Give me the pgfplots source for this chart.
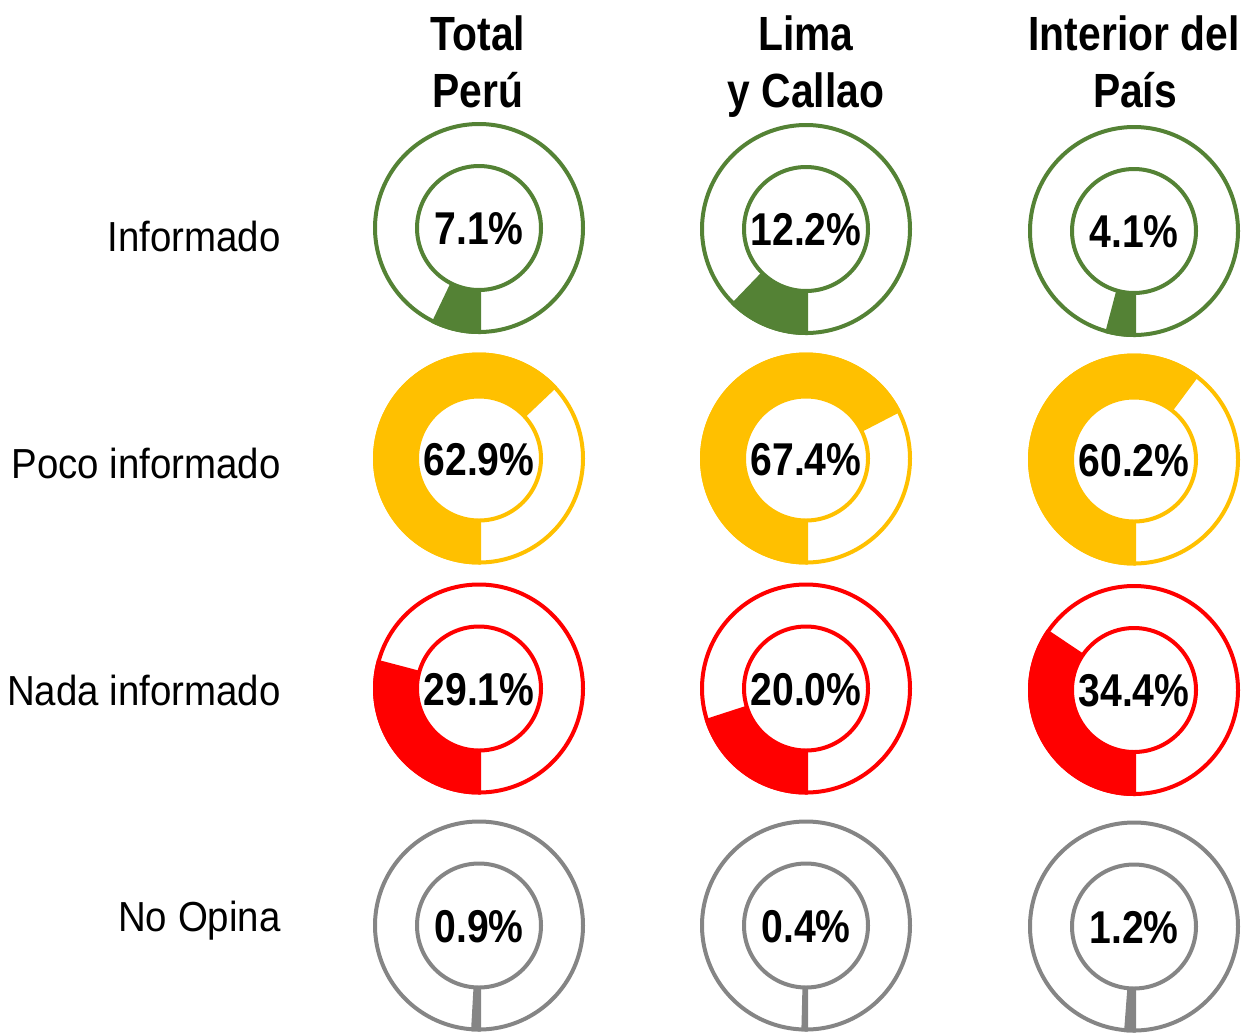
\documentclass[border=0pt]{standalone}
\usepackage{pgfplots}
\pgfplotsset{compat=1.18}
\usepackage{fontspec}
\setmainfont{Liberation Sans}
\newfontfamily\narrow[FakeStretch=0.85]{Liberation Sans}
\newfontfamily\narrowlab[FakeStretch=0.915]{Liberation Sans}
\definecolor{cgreen}{HTML}{548235}
\definecolor{cyellow}{HTML}{FFC000}
\definecolor{cred}{HTML}{FF0000}
\definecolor{cgray}{HTML}{858585}
% #1 cx, #2 cy (pixels, y downward), #3 value (%), #4 colour
\newcommand{\donut}[4]{%
  \addplot[fill=#4, draw=#4, line width=2pt, line join=miter, domain=0:#3, samples=80]
    ({#1+104*cos(270-3.6*x)},{#2-104*sin(270-3.6*x)}) -- (axis cs:#1,#2) -- cycle;
  \addplot[draw=#4, line width=2pt, domain=0:360, samples=181]
    ({#1+104*cos(x)},{#2+104*sin(x)}) -- cycle;
  \addplot[fill=white, draw=#4, line width=2pt, domain=0:360, samples=121]
    ({#1+62*cos(x)},{#2+62*sin(x)}) -- cycle;
  \node[anchor=base, font=\narrow\bfseries\fontsize{23}{27}\selectfont, inner sep=0pt]
    at (axis cs:#1,#2+16.5) {#3\%};
}
\begin{document}
\begin{tikzpicture}
\useasboundingbox (0,0) rectangle (624pt,516.5pt);
\begin{axis}[
  at={(0,0)}, anchor=south west,
  scale only axis, width=624pt, height=516.5pt,
  xmin=0, xmax=1248, ymin=0, ymax=1033, y dir=reverse,
  hide axis, clip=false]
% column headers
\node[anchor=base, font=\narrow\bfseries\fontsize{24}{28}\selectfont, inner sep=0pt] at (axis cs:478,50) {Total};
\node[anchor=base, font=\narrow\bfseries\fontsize{24}{28}\selectfont, inner sep=0pt] at (axis cs:478,107) {Perú};
\node[anchor=base, font=\narrow\bfseries\fontsize{24}{28}\selectfont, inner sep=0pt] at (axis cs:806,50) {Lima};
\node[anchor=base, font=\narrow\bfseries\fontsize{24}{28}\selectfont, inner sep=0pt] at (axis cs:806,107) {y Callao};
\node[anchor=base, font=\narrow\bfseries\fontsize{24}{28}\selectfont, inner sep=0pt] at (axis cs:1134,50) {Interior del};
\node[anchor=base, font=\narrow\bfseries\fontsize{24}{28}\selectfont, inner sep=0pt] at (axis cs:1135,107) {País};
% row labels
\node[anchor=base east, font=\narrowlab\fontsize{21}{25}\selectfont, inner sep=0pt] at (axis cs:281,251) {Informado};
\node[anchor=base east, font=\narrowlab\fontsize{21}{25}\selectfont, inner sep=0pt] at (axis cs:281,478) {Poco informado};
\node[anchor=base east, font=\narrowlab\fontsize{21}{25}\selectfont, inner sep=0pt] at (axis cs:281,705) {Nada informado};
\node[anchor=base east, font=\narrowlab\fontsize{21}{25}\selectfont, inner sep=0pt] at (axis cs:281,931) {No Opina};
% Informado
\donut{479}{228}{7.1}{cgreen}
\donut{806}{229}{12.2}{cgreen}
\donut{1134}{231}{4.1}{cgreen}
% Poco informado
\donut{479}{458.5}{62.9}{cyellow}
\donut{806}{458.5}{67.4}{cyellow}
\donut{1134}{459.5}{60.2}{cyellow}
% Nada informado
\donut{479}{688.5}{29.1}{cred}
\donut{806}{688.5}{20.0}{cred}
\donut{1134}{690}{34.4}{cred}
% No Opina
\donut{479}{925.5}{0.9}{cgray}
\donut{806}{925.5}{0.4}{cgray}
\donut{1134}{926.5}{1.2}{cgray}
\end{axis}
\end{tikzpicture}
\end{document}
